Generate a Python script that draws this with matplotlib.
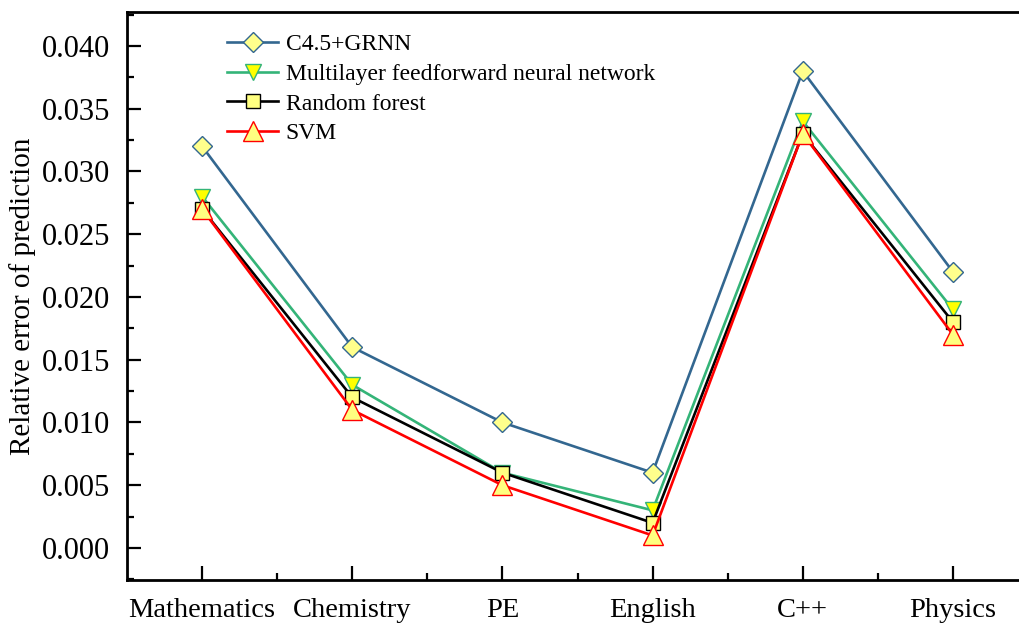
"""Relative prediction error per course for four models"""
import numpy as np, matplotlib
matplotlib.use("Agg")
import matplotlib.pyplot as plt
from matplotlib.ticker import MultipleLocator, FixedLocator

plt.rcParams["font.family"] = ["Liberation Serif", "DejaVu Serif"]

courses = ["Mathematics", "Chemistry", "PE", "English", "C++", "Physics"]
grnn = [0.032, 0.016, 0.010, 0.006, 0.038, 0.022]
mlp = [0.028, 0.013, 0.006, 0.003, 0.034, 0.019]
rf = [0.027, 0.012, 0.006, 0.002, 0.033, 0.018]
svm = [0.027, 0.011, 0.005, 0.001, 0.033, 0.017]

fig = plt.figure(figsize=(10.19, 6.23), dpi=100)
ax = fig.add_axes([127/1019, 43/623, 901/1019, 568/623])
x = np.arange(len(courses))

series = [
    (grnn, "C4.5+GRNN", "#336790", "D", "#FFFF8C", 10),
    (mlp, "Multilayer feedforward neural network", "#34B478", "v", "#FFFF00", 11),
    (rf, "Random forest", "black", "s", "#FFFF80", 9.5),
    (svm, "SVM", "#FF0000", "^", "#FFFF80", 14),
]
for vals, lab, col, mk, fc, ms in series:
    ax.plot(x, vals, color=col, lw=1.9, marker=mk, ms=ms, mfc=fc, mec=col,
            mew=1.0, label=lab)

ax.set_xlim(-0.5, 5.5)
ax.set_ylim(-0.00255, 0.0427)
ax.set_xticks(x)
ax.set_xticklabels(courses)
ax.xaxis.set_minor_locator(FixedLocator(x[:-1] + 0.5))
ax.yaxis.set_major_locator(MultipleLocator(0.005))
ax.yaxis.set_minor_locator(MultipleLocator(0.0025))
ax.yaxis.set_major_formatter(plt.FormatStrFormatter("%.3f"))
ax.tick_params(which="major", direction="in", length=10, width=1.6)
ax.tick_params(which="minor", direction="in", length=5, width=1.6)
ax.tick_params(axis="y", labelsize=22, pad=12)
ax.tick_params(axis="x", labelsize=20.5, pad=13)
for sp in ax.spines.values():
    sp.set_linewidth(2)
ax.spines["right"].set_visible(False)
ax.set_ylabel("Relative error of prediction", fontsize=21, labelpad=4)

ax.legend(loc="upper left", bbox_to_anchor=(0.1, 0.978), frameon=False,
          fontsize=17, handlelength=2.2, handletextpad=0.3, labelspacing=0.34,
          borderaxespad=0)

fig.savefig("out.png", dpi=100)
